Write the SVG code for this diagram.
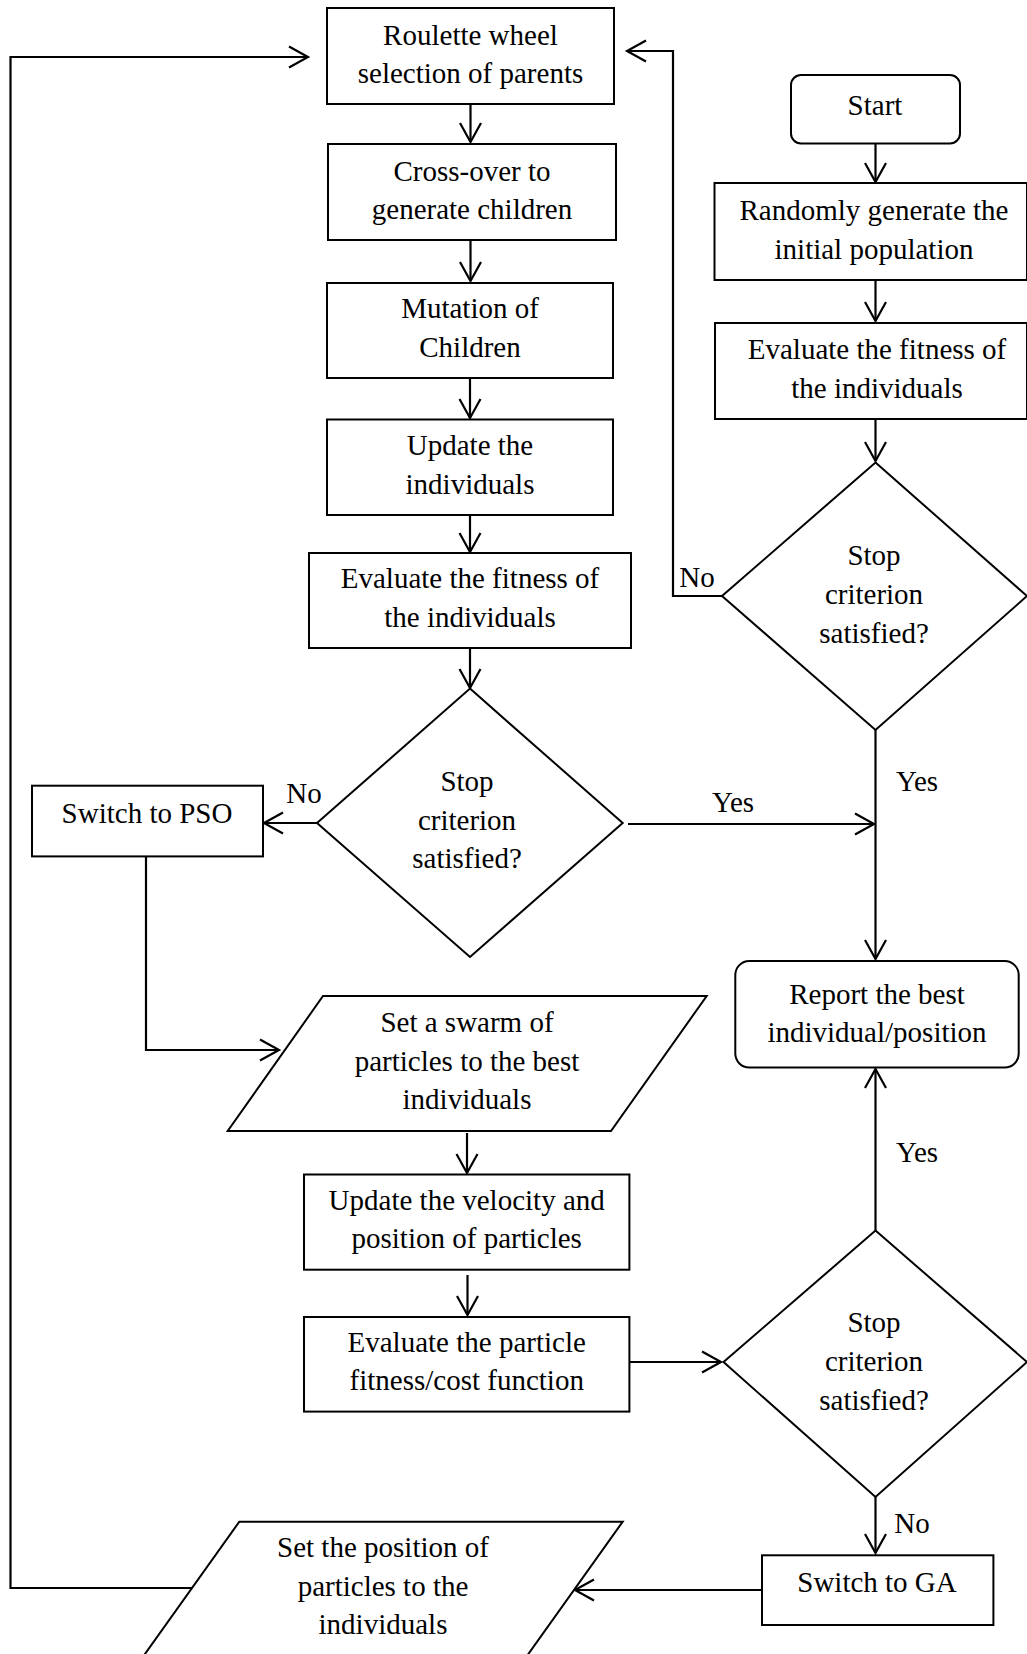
<svg xmlns="http://www.w3.org/2000/svg" width="1027" height="1654" viewBox="0 0 1027 1654">
<style>
.box{fill:#fff;stroke:#000;stroke-width:2}
.t{font-family:"Liberation Serif","Times New Roman",serif;font-size:29px;fill:#000;text-anchor:middle}
.c{fill:none;stroke:#000;stroke-width:2.2}
</style>
<defs>
<marker id="ah" markerUnits="userSpaceOnUse" markerWidth="30" markerHeight="30" viewBox="-22 -15 30 30" refX="0" refY="0" orient="auto" overflow="visible">
<path d="M-19,-10.5 L0,0 L-19,10.5" fill="none" stroke="#000" stroke-width="2.2"/>
</marker>
</defs>
<rect width="1027" height="1654" fill="#fff"/>
<g id="connectors">
<path class="c" d="M470.5,104 V142" marker-end="url(#ah)"/>
<path class="c" d="M470.5,240 V281" marker-end="url(#ah)"/>
<path class="c" d="M470,378 V418" marker-end="url(#ah)"/>
<path class="c" d="M470,515 V552" marker-end="url(#ah)"/>
<path class="c" d="M470,648 V688" marker-end="url(#ah)"/>
<path class="c" d="M317,823 H264" marker-end="url(#ah)"/>
<path class="c" d="M628,824 H874" marker-end="url(#ah)"/>
<path class="c" d="M875.5,144 V182" marker-end="url(#ah)"/>
<path class="c" d="M875.5,280 V321" marker-end="url(#ah)"/>
<path class="c" d="M875.5,419 V461" marker-end="url(#ah)"/>
<path class="c" d="M722,596 H673 V51 H627" marker-end="url(#ah)"/>
<path class="c" d="M875.5,730 V959" marker-end="url(#ah)"/>
<path class="c" d="M146,856 V1050 H279" marker-end="url(#ah)"/>
<path class="c" d="M467,1133 V1173" marker-end="url(#ah)"/>
<path class="c" d="M467.5,1275 V1315" marker-end="url(#ah)"/>
<path class="c" d="M629.4,1362 H721" marker-end="url(#ah)"/>
<path class="c" d="M875.5,1230 V1069" marker-end="url(#ah)"/>
<path class="c" d="M875.5,1497 V1553" marker-end="url(#ah)"/>
<path class="c" d="M762,1590 H575" marker-end="url(#ah)"/>
<path class="c" d="M192,1588 H10.5 V57 H308" marker-end="url(#ah)"/>
<text class="t" x="304" y="803">No</text>
<text class="t" x="697" y="587">No</text>
<text class="t" x="917" y="791">Yes</text>
<text class="t" x="733" y="812">Yes</text>
<text class="t" x="917" y="1162">Yes</text>
<text class="t" x="912" y="1533">No</text>
</g>
<g id="roulette"><rect class="box" x="327" y="8" width="287" height="96"/>
<text class="t" x="470.5" y="45">Roulette wheel</text><text class="t" x="470.5" y="83">selection of parents</text></g>
<g id="crossover"><rect class="box" x="328" y="144" width="288" height="96"/>
<text class="t" x="472" y="181">Cross-over to</text><text class="t" x="472" y="219">generate children</text></g>
<g id="mutation"><rect class="box" x="327" y="283" width="286" height="95"/>
<text class="t" x="470" y="318">Mutation of</text><text class="t" x="470" y="357">Children</text></g>
<g id="update"><rect class="box" x="327" y="419.5" width="286" height="95.5"/>
<text class="t" x="470" y="455">Update the</text><text class="t" x="470" y="494">individuals</text></g>
<g id="evalga"><rect class="box" x="309" y="553" width="322" height="95"/>
<text class="t" x="470" y="588">Evaluate the fitness of</text><text class="t" x="470" y="627">the individuals</text></g>
<g id="stopga"><polygon class="box" points="470,688.6 622.7,823 470,957 317,823"/>
<text class="t" x="467" y="791">Stop</text><text class="t" x="467" y="830">criterion</text><text class="t" x="467" y="868">satisfied?</text></g>
<g id="switchpso"><rect class="box" x="32" y="785.7" width="231" height="70.7"/>
<text class="t" x="147" y="823">Switch to PSO</text></g>
<g id="start"><rect class="box" x="791" y="75" width="169" height="68.5" rx="10"/>
<text class="t" x="875" y="115">Start</text></g>
<g id="randomly"><rect class="box" x="714.5" y="183" width="312.5" height="97"/>
<text class="t" x="874" y="220">Randomly generate the</text><text class="t" x="874" y="259">initial population</text></g>
<g id="evalinit"><rect class="box" x="715" y="323" width="312" height="96"/>
<text class="t" x="877" y="359">Evaluate the fitness of</text><text class="t" x="877" y="398">the individuals</text></g>
<g id="stopinit"><polygon class="box" points="875.5,462.5 1027,596 875.5,730 722,596"/>
<text class="t" x="874" y="565">Stop</text><text class="t" x="874" y="604">criterion</text><text class="t" x="874" y="643">satisfied?</text></g>
<g id="report"><rect class="box" x="735.3" y="961" width="283.4" height="106.6" rx="14"/>
<text class="t" x="877" y="1004">Report the best</text><text class="t" x="877" y="1042">individual/position</text></g>
<g id="setswarm"><polygon class="box" points="323,996 706.7,996 611,1131 227.7,1131"/>
<text class="t" x="467" y="1032">Set a swarm of</text><text class="t" x="467" y="1071">particles to the best</text><text class="t" x="467" y="1109">individuals</text></g>
<g id="updatevel"><rect class="box" x="304" y="1174.5" width="325.4" height="95.2"/>
<text class="t" x="466.7" y="1210">Update the velocity and</text><text class="t" x="466.7" y="1248">position of particles</text></g>
<g id="evalpart"><rect class="box" x="304" y="1317" width="325.4" height="94.6"/>
<text class="t" x="466.7" y="1352">Evaluate the particle</text><text class="t" x="466.7" y="1390">fitness/cost function</text></g>
<g id="stoppso"><polygon class="box" points="875.5,1230.6 1027,1362 875.5,1497 723.5,1362"/>
<text class="t" x="874" y="1332">Stop</text><text class="t" x="874" y="1371">criterion</text><text class="t" x="874" y="1410">satisfied?</text></g>
<g id="switchga"><rect class="box" x="762" y="1555.3" width="231.4" height="69.7"/>
<text class="t" x="877" y="1592">Switch to GA</text></g>
<g id="setpos"><polygon class="box" points="239.3,1521.7 622.7,1521.7 526.2,1657 142.8,1657"/>
<text class="t" x="383" y="1557">Set the position of</text><text class="t" x="383" y="1596">particles to the</text><text class="t" x="383" y="1634">individuals</text></g>
</svg>
